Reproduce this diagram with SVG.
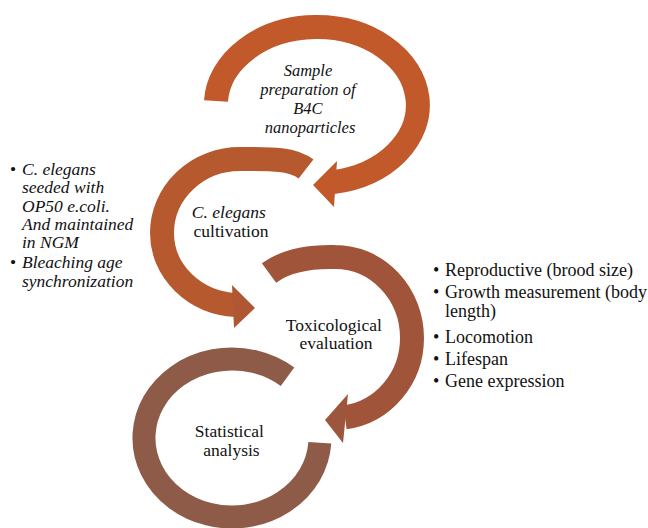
<svg xmlns="http://www.w3.org/2000/svg" width="648" height="528" viewBox="0 0 648 528">
  <style>
    .arc { fill: none; stroke-linecap: butt; stroke-width: 24px; }
    text { font-family: 'Liberation Serif', 'DejaVu Serif', serif; fill: #111111; }
    .lbl { font-size: 17.5px; text-anchor: middle; }
    .it { font-style: italic; }
  </style>
  <rect width="648" height="528" fill="#ffffff"/>

  <!-- Step 1: sample preparation -->
  <g id="step-sample">
    <path class="arc" stroke="#C1592B" d="M216,101 A101,78 0 1 1 333,182.1"/>
    <polygon fill="#C1592B" points="313,185 337,161 334,207"/>
    <text class="lbl it" style="font-size:16.5px">
      <tspan x="310" y="76">Sample</tspan>
      <tspan x="310" y="95">preparation of</tspan>
      <tspan x="310" y="114">B4C</tspan>
      <tspan x="310" y="133">nanoparticles</tspan>
    </text>
  </g>

  <!-- Step 2: worm cultivation -->
  <g id="step-cultivation">
    <path class="arc" stroke="#B7592E" d="M306,169 C292,158 268,159 240,159 A78,74 0 0 0 162,233 A78,72 0 0 0 236,305"/>
    <polygon fill="#AF5732" points="255,308 232,285 234,328"/>
    <text class="lbl">
      <tspan x="231" y="218" font-style="italic">C. elegans</tspan>
      <tspan x="231" y="237">cultivation</tspan>
    </text>
  </g>

  <!-- Step 3: toxicological evaluation -->
  <g id="step-toxicology">
    <path class="arc" stroke="#A0553A" d="M269,273 Q292,256 335,257 A77,81 0 0 1 412,338 A77,80 0 0 1 345,417.3"/>
    <polygon fill="#9D563B" points="325,420 348,394 343,443"/>
    <text class="lbl">
      <tspan x="336" y="331">Toxicological</tspan>
      <tspan x="336" y="349">evaluation</tspan>
    </text>
  </g>

  <!-- Step 4: statistical analysis -->
  <g id="step-statistics">
    <path class="arc" stroke="#8E5B49" style="stroke-width:23px" d="M287.5,376.7 A88,79 0 1 0 319.8,442.8"/>
    <text class="lbl">
      <tspan x="231.5" y="437">Statistical</tspan>
      <tspan x="231.5" y="456">analysis</tspan>
    </text>
  </g>

  <!-- Cultivation details -->
  <g id="notes-cultivation" font-size="17.5">
    <text x="10" y="175">•</text>
    <text x="10" y="268">•</text>
    <text x="22" y="175" font-style="italic">C. elegans</text>
    <text x="22" y="193" font-style="italic">seeded with</text>
    <text x="22" y="212" font-style="italic">OP50 e.coli.</text>
    <text x="22" y="230" font-style="italic">And maintained</text>
    <text x="22" y="248" font-style="italic">in NGM</text>
    <text x="22" y="268" font-style="italic">Bleaching age</text>
    <text x="22" y="287" font-style="italic">synchronization</text>
  </g>

  <!-- Toxicity endpoints -->
  <g id="notes-endpoints" font-size="18">
    <text x="433" y="276">•</text>
    <text x="445" y="276">Reproductive (brood size)</text>
    <text x="433" y="298">•</text>
    <text x="445" y="298">Growth measurement (body</text>
    <text x="445" y="317">length)</text>
    <text x="433" y="343">•</text>
    <text x="445" y="343">Locomotion</text>
    <text x="433" y="365">•</text>
    <text x="445" y="365">Lifespan</text>
    <text x="433" y="387">•</text>
    <text x="445" y="387">Gene expression</text>
  </g>
</svg>
